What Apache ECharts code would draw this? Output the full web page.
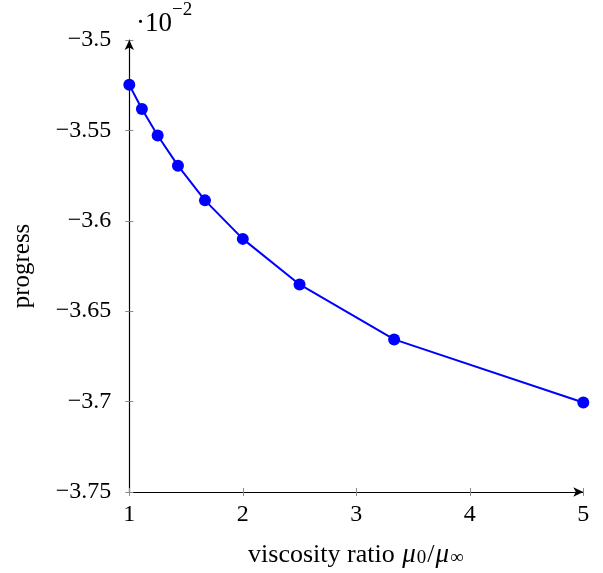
<!DOCTYPE html>
<html>
<head>
<meta charset="utf-8">
<script src="https://cdn.jsdelivr.net/npm/echarts@6/dist/echarts.min.js"></script>
<style>
  html, body { margin: 0; padding: 0; background: #fff; }
  #chart { width: 603px; height: 573px; }
</style>
</head>
<body>
<div id="chart"></div>
<script>
// viscosity ratio mu0 / mu_inf
const viscosityRatio = [1, 1.1111, 1.25, 1.4286, 1.6667, 2, 2.5, 3.3333, 5];
// progress, in units of 1e-2
const progress = [-3.5248, -3.5382, -3.5528, -3.5695, -3.5887, -3.6100, -3.6352, -3.6656, -3.7005];

const xTicks = [1, 2, 3, 4, 5];
const yTicks = [-3.75, -3.7, -3.65, -3.6, -3.55, -3.5];

const FONT = 'Liberation Serif';
const FS = 24;
const tickColor = '#8a8a8a';

function fmtY(v) {
  const s = parseFloat(Math.abs(v).toFixed(4)).toString();
  return (v < 0 ? '\u2212' : '') + s;
}

const chart = echarts.init(document.getElementById('chart'));

const baseX = {
  type: 'value',
  min: xTicks[0],
  max: xTicks[xTicks.length - 1],
  interval: 1,
  position: 'bottom',
  splitLine: { show: false }
};
const baseY = {
  type: 'value',
  min: yTicks[0],
  max: yTicks[yTicks.length - 1],
  interval: 0.05,
  position: 'left',
  splitLine: { show: false }
};

chart.setOption({
  animation: false,
  backgroundColor: '#fff',
  grid: { left: 129.3, right: 19.7, top: 40, bottom: 79.7, containLabel: false },
  xAxis: [
    Object.assign({}, baseX, {
      axisLine: { show: true, symbol: ['none', 'arrow'], symbolSize: [7, 10], lineStyle: { color: '#000', width: 1.2 } },
      axisTick: { show: true, inside: false, length: 4, lineStyle: { color: tickColor, width: 1 } },
      axisLabel: { show: true, margin: 11, fontFamily: FONT, fontSize: FS, color: '#000', formatter: v => String(v) },
      name: '{t|viscosity ratio }{i|\u03bc}{s|0}{t|/}{i|\u03bc}{s|\u221e}',
      nameLocation: 'middle',
      nameGap: 46,
      nameTextStyle: {
        fontFamily: FONT, fontSize: 26, color: '#000',
        rich: {
          t: { fontFamily: FONT, fontSize: 26, color: '#000', lineHeight: 30, verticalAlign: 'bottom' },
          i: { fontFamily: FONT, fontSize: 27, fontStyle: 'italic', color: '#000', lineHeight: 30, verticalAlign: 'bottom', padding: [0, 1, 0, 1] },
          s: { fontFamily: FONT, fontSize: 19, color: '#000', lineHeight: 12, verticalAlign: 'bottom', padding: [0, 1, 0, 0] }
        }
      }
    }),
    Object.assign({}, baseX, {
      axisLine: { show: false },
      axisTick: { show: true, inside: true, length: 4, lineStyle: { color: tickColor, width: 1 } },
      axisLabel: { show: false }
    })
  ],
  yAxis: [
    Object.assign({}, baseY, {
      axisLine: { show: true, symbol: ['none', 'arrow'], symbolSize: [7, 10], lineStyle: { color: '#000', width: 1.2 } },
      axisTick: { show: true, inside: false, length: 4, lineStyle: { color: tickColor, width: 1 } },
      axisLabel: { show: true, margin: 18, fontFamily: FONT, fontSize: FS, color: '#000', formatter: fmtY },
      name: 'progress',
      nameLocation: 'middle',
      nameGap: 94,
      nameRotate: 90,
      nameTextStyle: { fontFamily: FONT, fontSize: 25, color: '#000' }
    }),
    Object.assign({}, baseY, {
      axisLine: { show: false },
      axisTick: { show: true, inside: true, length: 4, lineStyle: { color: tickColor, width: 1 } },
      axisLabel: { show: false }
    })
  ],
  graphic: [{
    type: 'text',
    left: 136,
    top: 1,
    style: {
      text: '{a|\u00b710}{b|\u22122}',
      rich: {
        a: { fontFamily: FONT, fontSize: 27, fill: '#000', lineHeight: 36, verticalAlign: 'bottom' },
        b: { fontFamily: FONT, fontSize: 19, fill: '#000', lineHeight: 36, verticalAlign: 'top' }
      }
    }
  }],
  series: [{
    type: 'line',
    xAxisIndex: 0,
    yAxisIndex: 0,
    data: viscosityRatio.map((x, i) => [x, progress[i]]),
    symbol: 'circle',
    symbolSize: 12,
    showAllSymbol: true,
    lineStyle: { color: '#0000ff', width: 2 },
    itemStyle: { color: '#0000ff' },
    clip: false
  }]
});
</script>
</body>
</html>
